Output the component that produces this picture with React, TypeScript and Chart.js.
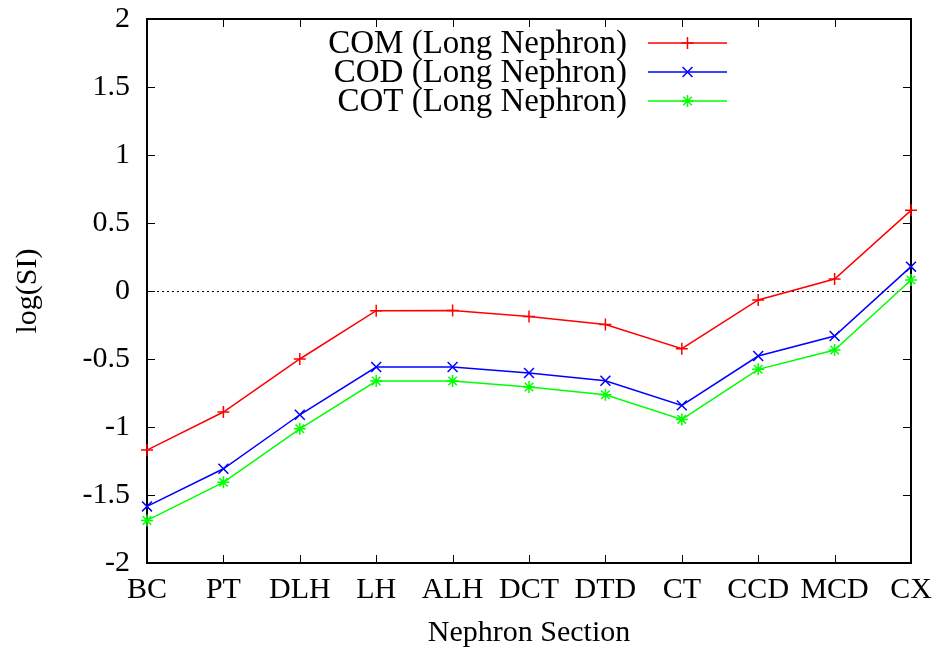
import React, { useEffect, useRef } from 'react';
import { Chart, registerables } from 'chart.js';
import { drawPoint } from 'chart.js/helpers';

Chart.register(...registerables);

const categories = ['BC', 'PT', 'DLH', 'LH', 'ALH', 'DCT', 'DTD', 'CT', 'CCD', 'MCD', 'CX'];
const comValues = [-1.17, -0.89, -0.5, -0.145, -0.143, -0.187, -0.246, -0.424, -0.066, 0.088, 0.593];
const codValues = [-1.584, -1.307, -0.91, -0.559, -0.559, -0.603, -0.66, -0.841, -0.478, -0.331, 0.179];
const cotValues = [-1.687, -1.407, -1.013, -0.662, -0.662, -0.706, -0.763, -0.944, -0.576, -0.434, 0.081];
const seriesLabels = ['COM (Long Nephron)', 'COD (Long Nephron)', 'COT (Long Nephron)'];
const seriesColors = ['#ff0000', '#0000ff', '#00ff00'];
const seriesMarkers = ['cross', 'crossRot', 'star'];
const yTickValues = [-2, -1.5, -1, -0.5, 0, 0.5, 1, 1.5, 2];
const yTickLabels = ['-2', '-1.5', '-1', '-0.5', '0', '0.5', '1', '1.5', '2'];

const FONT_FAMILY = "'Liberation Serif', 'DejaVu Serif', serif";

const framePlugin = {
  id: 'gnuplotFrame',
  beforeDatasetsDraw(chart: any) {
    const { ctx, chartArea } = chart;
    const { left, right, top, bottom } = chartArea;
    const xs = chart.scales.x;
    const ys = chart.scales.y;
    const tl = 8;
    ctx.save();
    ctx.strokeStyle = '#000';
    ctx.lineWidth = 1;
    ctx.beginPath();
    yTickValues.forEach((v) => {
      const y = Math.round(ys.getPixelForValue(v)) + 0.5;
      ctx.moveTo(left, y);
      ctx.lineTo(left + tl, y);
      ctx.moveTo(right, y);
      ctx.lineTo(right - tl, y);
    });
    categories.forEach((_, i) => {
      const x = Math.round(xs.getPixelForValue(i)) + 0.5;
      ctx.moveTo(x, bottom);
      ctx.lineTo(x, bottom - tl);
      ctx.moveTo(x, top);
      ctx.lineTo(x, top + tl);
    });
    ctx.stroke();
    ctx.lineWidth = 2;
    ctx.strokeRect(left, top, right - left, bottom - top);
    ctx.restore();
  },
};

const legendPlugin = {
  id: 'gnuplotLegend',
  afterDraw(chart: any) {
    const { ctx } = chart;
    const textRight = 627;
    const lineStart = 648;
    const lineEnd = 727;
    const rowY0 = 43;
    const rowStep = 29;
    ctx.save();
    chart.data.datasets.forEach((ds: any, i: number) => {
      const y = rowY0 + i * rowStep;
      ctx.font = `33px ${FONT_FAMILY}`;
      ctx.fillStyle = '#000';
      ctx.textAlign = 'right';
      ctx.textBaseline = 'middle';
      ctx.fillText(ds.label, textRight, y + 1);
      ctx.strokeStyle = ds.borderColor;
      ctx.lineWidth = 1.5;
      ctx.beginPath();
      ctx.moveTo(lineStart, y);
      ctx.lineTo(lineEnd, y);
      ctx.stroke();
      ctx.fillStyle = ds.borderColor;
      drawPoint(ctx, { pointStyle: ds.pointStyle, radius: ds.pointRadius, borderWidth: 1.5, rotation: 0 } as any, (lineStart + lineEnd) / 2, y);
    });
    ctx.restore();
  },
};

export default function App() {
  const canvasRef = useRef<HTMLCanvasElement | null>(null);

  useEffect(() => {
    const canvas = canvasRef.current;
    if (!canvas) return;
    const seriesValues = [comValues, codValues, cotValues];
    const chart = new Chart(canvas, {
      type: 'line',
      data: {
        labels: categories,
        datasets: seriesValues.map((vals, i) => ({
          label: seriesLabels[i],
          data: vals,
          borderColor: seriesColors[i],
          backgroundColor: seriesColors[i],
          borderWidth: 1.5,
          pointStyle: seriesMarkers[i] as any,
          pointRadius: i === 1 ? 7 : 6,
          pointBorderWidth: 1.5,
          pointBorderColor: seriesColors[i],
          fill: false,
          tension: 0,
        })),
      },
      options: {
        animation: false,
        responsive: false,
        maintainAspectRatio: false,
        layout: { padding: { top: 19, right: 27, left: 0, bottom: 0 } },
        plugins: {
          legend: { display: false },
          tooltip: { enabled: false },
        },
        scales: {
          x: {
            type: 'category',
            offset: false,
            grid: { display: false, drawTicks: false },
            border: { display: false },
            ticks: {
              color: '#000',
              padding: 9,
              maxRotation: 0,
              autoSkip: false,
              font: { family: FONT_FAMILY, size: 30 },
            },
            title: {
              display: true,
              text: 'Nephron Section',
              color: '#000',
              font: { family: FONT_FAMILY, size: 30 },
              padding: { top: 0, bottom: 3 },
            },
            afterFit: (scale: any) => {
              scale.height = 91;
              scale.paddingLeft = 0;
              scale.paddingRight = 0;
              scale.paddingTop = 0;
              scale.paddingBottom = 0;
            },
          },
          y: {
            min: -2,
            max: 2,
            grid: {
              drawTicks: false,
              lineWidth: 1,
              color: (ctx: any) => (ctx.tick && Math.abs(ctx.tick.value) < 1e-9 ? '#000' : 'rgba(0,0,0,0)'),
            },
            border: { display: false, dash: [2, 3] },
            ticks: {
              stepSize: 0.5,
              color: '#000',
              padding: 17,
              font: { family: FONT_FAMILY, size: 30 },
              callback: (v: any) => {
                const idx = yTickValues.indexOf(Math.round(Number(v) * 2) / 2);
                return idx >= 0 ? yTickLabels[idx] : '';
              },
            },
            title: {
              display: true,
              text: 'log(SI)',
              color: '#000',
              font: { family: FONT_FAMILY, size: 30 },
              padding: { top: 10, bottom: 0 },
            },
            afterFit: (scale: any) => {
              scale.width = 147;
              scale.paddingLeft = 0;
              scale.paddingRight = 0;
              scale.paddingTop = 0;
              scale.paddingBottom = 0;
            },
          },
        },
      },
      plugins: [framePlugin, legendPlugin],
    });
    return () => chart.destroy();
  }, []);

  return (
    <div style={{ position: 'fixed', left: 0, top: 0, width: 938, height: 654, background: '#fff' }}>
      <canvas ref={canvasRef} width={938} height={654} style={{ width: 938, height: 654 }} />
    </div>
  );
}
